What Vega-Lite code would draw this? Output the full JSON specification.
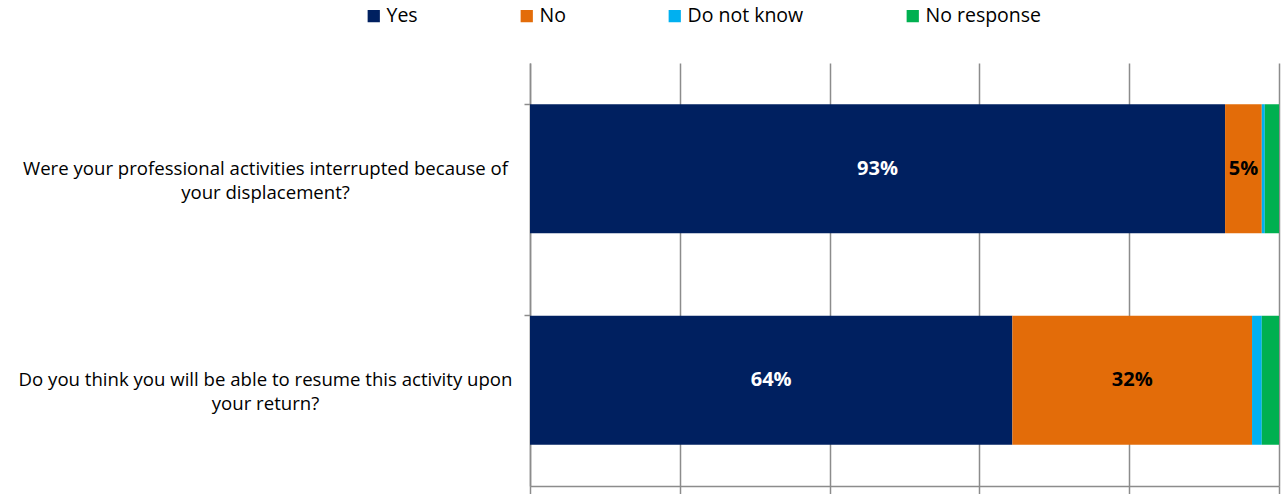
{
  "$schema": "https://vega.github.io/schema/vega-lite/v6.json",
  "width": 749,
  "height": 423,
  "autosize": "none",
  "padding": {"left": 530, "top": 63, "right": 2, "bottom": 8},
  "config": {
    "view": {"stroke": null},
    "font": "Open Sans"
  },
  "data": {
    "values": [
      {"question": "Were your professional activities interrupted because of your displacement?", "response": "Yes", "k": 1, "value": 0.928},
      {"question": "Were your professional activities interrupted because of your displacement?", "response": "No", "k": 2, "value": 0.049},
      {"question": "Were your professional activities interrupted because of your displacement?", "response": "Do not know", "k": 3, "value": 0.004},
      {"question": "Were your professional activities interrupted because of your displacement?", "response": "No response", "k": 4, "value": 0.019},
      {"question": "Do you think you will be able to resume this activity upon your return?", "response": "Yes", "k": 1, "value": 0.644},
      {"question": "Do you think you will be able to resume this activity upon your return?", "response": "No", "k": 2, "value": 0.32},
      {"question": "Do you think you will be able to resume this activity upon your return?", "response": "Do not know", "k": 3, "value": 0.013},
      {"question": "Do you think you will be able to resume this activity upon your return?", "response": "No response", "k": 4, "value": 0.023}
    ]
  },
  "encoding": {
    "y": {
      "field": "question",
      "type": "nominal",
      "sort": null,
      "title": null,
      "scale": {"paddingInner": 0.39, "paddingOuter": 0.195},
      "axis": {
        "bandPosition": 0,
        "domainColor": "#8c8c8c",
        "domainWidth": 1.5,
        "tickColor": "#8c8c8c",
        "tickWidth": 1.5,
        "tickSize": 6,
        "labelAlign": "center",
        "labelBaseline": "middle",
        "labelPadding": 259,
        "labelLimit": 700,
        "labelFont": "Open Sans",
        "labelFontSize": 18.6,
        "labelColor": "#000000",
        "labelLineHeight": 24,
        "labelExpr": "indexof(datum.label, 'Were') == 0 ? ['Were your professional activities interrupted because of', 'your displacement?'] : ['Do you think you will be able to resume this activity upon', 'your return?']"
      }
    },
    "x": {
      "field": "value",
      "type": "quantitative",
      "stack": "zero",
      "title": null,
      "scale": {"domain": [0, 1]},
      "axis": {
        "values": [0, 0.2, 0.4, 0.6, 0.8, 1],
        "labels": false,
        "domainColor": "#8c8c8c",
        "domainWidth": 1.5,
        "tickColor": "#8c8c8c",
        "tickWidth": 1.5,
        "tickSize": 8,
        "grid": true,
        "gridColor": "#8c8c8c",
        "gridWidth": 1.5,
        "gridOpacity": 1
      }
    },
    "order": {"field": "k", "type": "quantitative"}
  },
  "layer": [
    {
      "mark": {"type": "bar"},
      "encoding": {
        "color": {
          "field": "response",
          "type": "nominal",
          "scale": {
            "domain": ["Yes", "No", "Do not know", "No response"],
            "range": ["#002060", "#E36C09", "#00B0F0", "#00B050"]
          },
          "legend": {
            "title": null,
            "orient": "none",
            "direction": "horizontal",
            "legendX": -166,
            "legendY": -57,
            "symbolType": "square",
            "symbolSize": 150,
            "symbolStrokeWidth": 0,
            "symbolOpacity": 1,
            "labelFont": "Open Sans",
            "labelFontSize": 19.5,
            "labelColor": "#000000",
            "labelOffset": 3,
            "columnPadding": 99
          }
        }
      }
    },
    {
      "transform": [{"filter": "datum.value >= 0.04"}],
      "mark": {"type": "text", "font": "Open Sans", "fontWeight": "bold", "fontSize": 20, "baseline": "middle", "align": "center"},
      "encoding": {
        "x": {"field": "value", "type": "quantitative", "stack": "zero", "bandPosition": 0.5},
        "text": {"field": "value", "type": "quantitative", "format": ".0%"},
        "color": {"condition": {"test": "datum.response == 'Yes'", "value": "#ffffff"}, "value": "#000000"}
      }
    }
  ]
}
